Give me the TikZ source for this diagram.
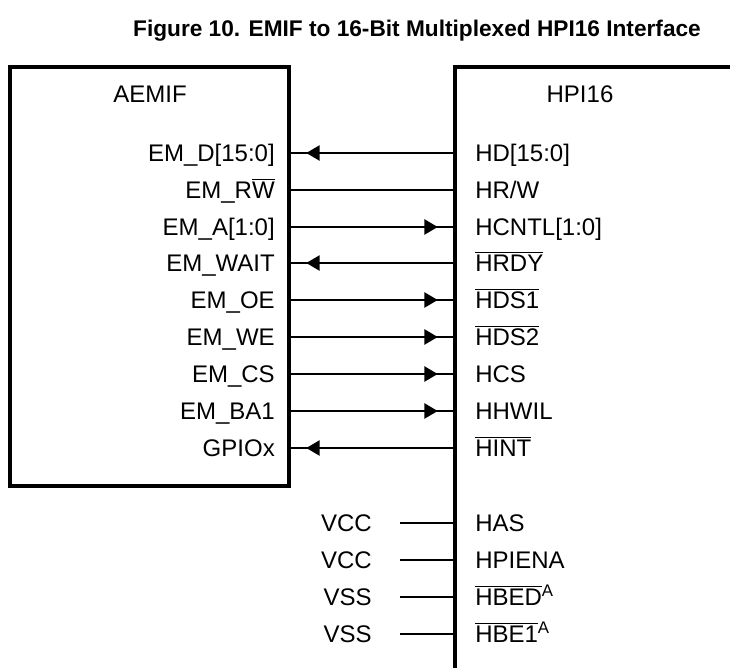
\documentclass[tikz,border=0pt]{standalone}
\usepackage{fontspec}
\setmainfont{Liberation Sans}
\usetikzlibrary{arrows.meta}
\newcommand{\ovl}[1]{$\overline{\mbox{#1}}$}

\begin{document}
\begin{tikzpicture}[x=0.75pt,y=-0.75pt]
\tikzstyle{every node}=[inner sep=0pt, font=\fontsize{18}{20}\selectfont]
\tikzstyle{box}=[line width=2.8pt, line cap=rect]
\tikzstyle{wire}=[line width=1.1pt]
\tikzstyle{tip}=[line width=1.1pt, -{Triangle[length=10pt,width=11.5pt]}, shorten >=13pt]
\useasboundingbox (0,0) rectangle (730,667);

% title
\node[anchor=base, font=\fontsize{17}{20}\selectfont\bfseries] (title) at (417,37) {Figure 10. EMIF to 16-Bit Multiplexed HPI16 Interface};

% the two blocks
\draw[box] (10,67) rectangle (289,486);
\draw[box] (455,667) -- (455,67) -- (730,67);
\node[anchor=base] (aemif) at (150,102) {AEMIF};
\node[anchor=base] (hpi) at (580,102) {HPI16};

% AEMIF pins
\node[anchor=base east] (emd) at (275,161) {EM\_D[15:0]};
\node[anchor=base east] (emrw) at (275,198) {EM\_R\ovl{W}};
\node[anchor=base east] (ema) at (275,235) {EM\_A[1:0]};
\node[anchor=base east] (emwait) at (275,271) {EM\_WAIT};
\node[anchor=base east] (emoe) at (275,308) {EM\_OE};
\node[anchor=base east] (emwe) at (275,345) {EM\_WE};
\node[anchor=base east] (emcs) at (275,382) {EM\_CS};
\node[anchor=base east] (emba) at (275,419) {EM\_BA1};
\node[anchor=base east] (gpio) at (275,456) {GPIOx};

% HPI16 pins
\node[anchor=base west] (hd) at (475,161) {HD[15:0]};
\node[anchor=base west] (hrw) at (475,198) {HR/W};
\node[anchor=base west] (hcntl) at (475,235) {HCNTL[1:0]};
\node[anchor=base west] (hrdy) at (475,271) {\ovl{HRDY}};
\node[anchor=base west] (hds1) at (475,308) {\ovl{HDS1}};
\node[anchor=base west] (hds2) at (475,345) {\ovl{HDS2}};
\node[anchor=base west] (hcs) at (475,382) {HCS};
\node[anchor=base west] (hhwil) at (475,419) {HHWIL};
\node[anchor=base west] (hint) at (475,456) {\ovl{HINT}};
\node[anchor=base west] (has) at (475,531) {HAS};
\node[anchor=base west] (hpiena) at (475,568) {HPIENA};
\node[anchor=base west] (hbed) at (475,605) {\ovl{HBED}\textsuperscript{A}};
\node[anchor=base west] (hbe1) at (475,642) {\ovl{HBE1}\textsuperscript{A}};

% tie-offs
\node[anchor=base east] (vcca) at (372,531) {VCC};
\node[anchor=base east] (vccb) at (372,568) {VCC};
\node[anchor=base east] (vssa) at (372,605) {VSS};
\node[anchor=base east] (vssb) at (372,642) {VSS};

% pin ends on the block edges
\foreach \n/\y in {emd/153,emrw/190,ema/227,emwait/263,emoe/300,emwe/337,emcs/374,emba/411,gpio/448}
  \coordinate (\n-e) at (289,\y);
\foreach \n/\y in {hd/153,hrw/190,hcntl/227,hrdy/263,hds1/300,hds2/337,hcs/374,hhwil/411,hint/448,has/523,hpiena/560,hbed/597,hbe1/634}
  \coordinate (\n-w) at (455,\y);
\foreach \n/\y in {vcca/523,vccb/560,vssa/597,vssb/634}
  \coordinate (\n-e) at (400,\y);

% connections
\foreach \a/\b in {emd/hd,emrw/hrw,ema/hcntl,emwait/hrdy,emoe/hds1,emwe/hds2,emcs/hcs,emba/hhwil,gpio/hint,vcca/has,vccb/hpiena,vssa/hbed,vssb/hbe1}
  \draw[wire] (\a-e) -- (\b-w);
% directions
\foreach \a/\b in {hd/emd,hrdy/emwait,hint/gpio}
  \draw[tip] (\a-w) -- (\b-e);
\foreach \a/\b in {ema/hcntl,emoe/hds1,emwe/hds2,emcs/hcs,emba/hhwil}
  \draw[tip] (\a-e) -- (\b-w);
\end{tikzpicture}
\end{document}
